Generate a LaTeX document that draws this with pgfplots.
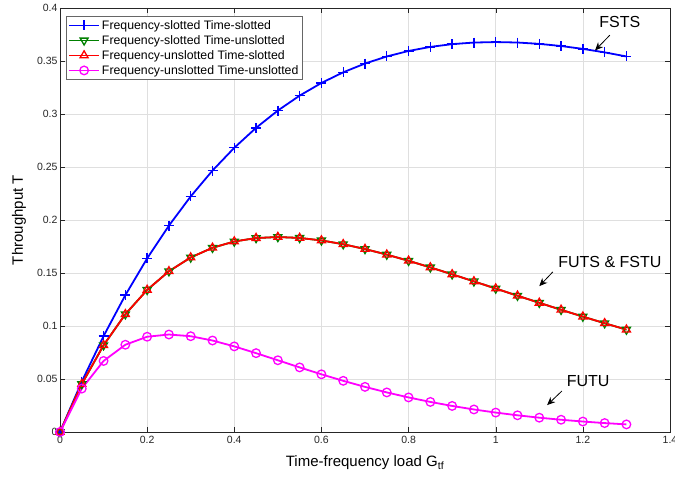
\documentclass[border=0pt]{standalone}
\usepackage{pgfplots}
\pgfplotsset{compat=1.18}
\usetikzlibrary{arrows.meta}
\usepackage{fontspec}
\setmainfont{Liberation Sans}
\definecolor{mgreen}{rgb}{0,0.5,0}
\definecolor{mmag}{rgb}{1,0,1}
\definecolor{mblue}{rgb}{0,0,1}
\definecolor{mred}{rgb}{1,0,0}
\definecolor{mgray}{rgb}{0.15,0.15,0.15}
\begin{document}
\begin{tikzpicture}[x=1pt,y=1pt]
\begin{axis}[
  name=ax,
  width=610pt, height=424pt, scale only axis,
  xmin=0, xmax=1.4, ymin=0, ymax=0.4,
  xtick={0,0.2,...,1.4}, ytick={0,0.05,...,0.4},
  xticklabels={0,0.2,0.4,0.6,0.8,1,1.2,1.4},
  yticklabels={0,0.05,0.1,0.15,0.2,0.25,0.3,0.35,0.4},
  /pgf/number format/assume math mode=true,
  grid=major, major grid style={gray!25, line width=0.5pt},
  tick align=inside, tick pos=both,
  major tick length=5pt,
  axis line style={mgray, line width=0.6pt},
  tick style={mgray},
  ticklabel style={font=\fontsize{10.5}{12}\selectfont, text=mgray},
  xticklabel style={yshift=-1pt},
  yticklabel style={xshift=1pt},
  xlabel={Time-frequency load G$_{\mathrm{tf}}$},
  ylabel={Throughput T},
  label style={font=\fontsize{15}{17}\selectfont},
  xlabel style={at={(axis description cs:0.5,0)}, anchor=center, yshift=-31pt},
  ylabel style={at={(axis description cs:0,0.5)}, anchor=center, yshift=41pt},
  legend style={at={(0,1)}, anchor=north west, xshift=6pt, yshift=-8pt,
    font=\fontsize{12.3}{14}\selectfont, draw=black!60, fill=white,
    row sep=0.6pt, inner sep=2pt},
  legend cell align=left,
  legend image code/.code={\draw[line width=1.8pt, mark repeat=2,mark phase=2] plot coordinates {(0pt,0pt) (15pt,0pt) (30pt,0pt)};},
]
\addplot[mblue, line width=1.8pt, mark=+, mark size=5pt, mark options={line width=1.3pt}] coordinates {
(0,0) (0.05,0.04756) (0.1,0.09048) (0.15,0.12911) (0.2,0.16375) (0.25,0.19470)
(0.3,0.22225) (0.35,0.24664) (0.4,0.26813) (0.45,0.28693) (0.5,0.30327)
(0.55,0.31732) (0.6,0.32929) (0.65,0.33933) (0.7,0.34761) (0.75,0.35428)
(0.8,0.35946) (0.85,0.36330) (0.9,0.36591) (0.95,0.36740) (1.0,0.36788)
(1.05,0.36743) (1.1,0.36616) (1.15,0.36413) (1.2,0.36143) (1.25,0.35813) (1.3,0.35429)};
\addlegendentry{Frequency-slotted Time-slotted}
\addplot[mgreen, line width=1.8pt, mark=triangle, mark size=4.6pt, mark options={rotate=180, line width=1.3pt}] coordinates {
(0,0) (0.05,0.04524) (0.1,0.08187) (0.15,0.11112) (0.2,0.13406) (0.25,0.15163)
(0.3,0.16464) (0.35,0.17380) (0.4,0.17973) (0.45,0.18296) (0.5,0.18394)
(0.55,0.18308) (0.6,0.18072) (0.65,0.17715) (0.7,0.17262) (0.75,0.16735)
(0.8,0.16152) (0.85,0.15528) (0.9,0.14877) (0.95,0.14209) (1.0,0.13534)
(1.05,0.12858) (1.1,0.12188) (1.15,0.11530) (1.2,0.10886) (1.25,0.10261) (1.3,0.09656)};
\addlegendentry{Frequency-slotted Time-unslotted}
\addplot[mred, line width=1.8pt, mark=triangle, mark size=4.6pt, mark options={line width=1.3pt}] coordinates {
(0,0) (0.05,0.04524) (0.1,0.08187) (0.15,0.11112) (0.2,0.13406) (0.25,0.15163)
(0.3,0.16464) (0.35,0.17380) (0.4,0.17973) (0.45,0.18296) (0.5,0.18394)
(0.55,0.18308) (0.6,0.18072) (0.65,0.17715) (0.7,0.17262) (0.75,0.16735)
(0.8,0.16152) (0.85,0.15528) (0.9,0.14877) (0.95,0.14209) (1.0,0.13534)
(1.05,0.12858) (1.1,0.12188) (1.15,0.11530) (1.2,0.10886) (1.25,0.10261) (1.3,0.09656)};
\addlegendentry{Frequency-unslotted Time-slotted}
\addplot[mmag, line width=1.8pt, mark=o, mark size=4.3pt, mark options={line width=1.3pt}] coordinates {
(0,0) (0.05,0.04094) (0.1,0.06703) (0.15,0.08232) (0.2,0.08987) (0.25,0.09197)
(0.3,0.09036) (0.35,0.08631) (0.4,0.08076) (0.45,0.07438) (0.5,0.06767)
(0.55,0.06094) (0.6,0.05443) (0.65,0.04828) (0.7,0.04257) (0.75,0.03734)
(0.8,0.03261) (0.85,0.02837) (0.9,0.02459) (0.95,0.02125) (1.0,0.01832)
(1.05,0.01575) (1.1,0.01350) (1.15,0.01156) (1.2,0.00988) (1.25,0.00842) (1.3,0.00717)};
\addlegendentry{Frequency-unslotted Time-unslotted}
\node[font=\fontsize{16}{18}\selectfont] at (axis cs:1.285,0.3868) {FSTS};
\draw[-{Stealth[length=8pt,width=7pt]}, line width=0.8pt] (axis cs:1.262,0.3744) -- (axis cs:1.228,0.360);
\node[font=\fontsize{16}{18}\selectfont] at (axis cs:1.262,0.1603) {FUTS \& FSTU};
\draw[-{Stealth[length=8pt,width=7pt]}, line width=0.8pt] (axis cs:1.131,0.151) -- (axis cs:1.100,0.1376);
\node[font=\fontsize{16}{18}\selectfont] at (axis cs:1.212,0.0481) {FUTU};
\draw[-{Stealth[length=8pt,width=7pt]}, line width=0.8pt] (axis cs:1.152,0.0387) -- (axis cs:1.118,0.0254);
\end{axis}
\pgfresetboundingbox
\path[use as bounding box] ([xshift=-60pt,yshift=-47pt]ax.south west) rectangle ([xshift=5pt,yshift=8pt]ax.north east);
\end{tikzpicture}
\end{document}
